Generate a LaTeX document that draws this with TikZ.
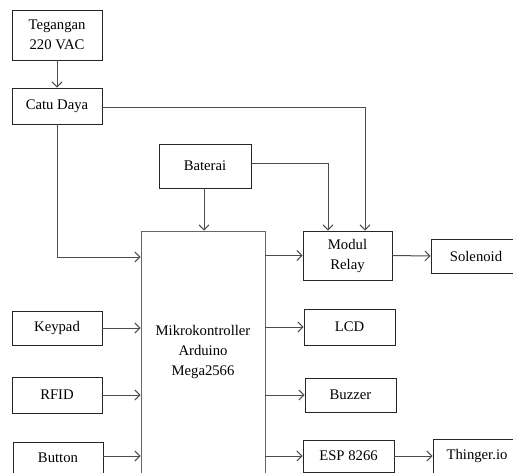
\documentclass[tikz,border=0pt]{standalone}
\usepackage{fontspec}
\setmainfont{Liberation Serif}
\usetikzlibrary{arrows.meta}
\begin{document}
\begin{tikzpicture}[x=1pt,y=-1pt,
  blk/.style={draw=black!85, line width=0.9pt, inner sep=0pt, align=center,
    font=\fontsize{14.7}{20}\selectfont},
  conn/.style={draw=black!70, line width=1pt, -{Straight Barb[length=5pt,width=10pt]}},
  line/.style={draw=black!70, line width=1pt}]
\useasboundingbox (0,0) rectangle (513,472);
\clip (0,0) rectangle (513,472);
\fill[white] (0,0) rectangle (513,472);

\node[blk, minimum width=90pt, minimum height=50pt] (teg) at (57,35) {Tegangan\\220 VAC};
\node[blk, minimum width=90pt, minimum height=36pt] (catu) at (57,106) {Catu Daya};
\node[blk, minimum width=92pt, minimum height=44pt] (bat) at (205,166) {Baterai};
\node[blk, draw=black!60, minimum width=124pt, minimum height=268pt] (mcu) at (203,365) {};
\node[align=center, font=\fontsize{14.7}{20}\selectfont, inner sep=0pt] (mcutxt) at (203,352) {Mikrokontroller\\Arduino\\Mega2566};
\node[blk, minimum width=89pt, minimum height=49pt] (relay) at (347.5,255.5) {Modul\\Relay};
\node[blk, minimum width=90pt, minimum height=34pt] (sol) at (476,256) {Solenoid};
\node[blk, minimum width=90pt, minimum height=34pt] (keypad) at (57,328) {Keypad};
\node[blk, minimum width=90pt, minimum height=36pt] (rfid) at (57,395) {RFID};
\node[blk, minimum width=90pt, minimum height=32pt] (button) at (58,458) {Button};
\node[blk, minimum width=91pt, minimum height=36pt] (lcd) at (349.5,327) {LCD};
\node[blk, minimum width=91pt, minimum height=34pt] (buzzer) at (350.5,395) {Buzzer};
\node[blk, minimum width=91pt, minimum height=32pt] (esp) at (348.5,456) {ESP 8266};
\node[blk, minimum width=88pt, minimum height=34pt] (thing) at (477,456) {Thinger.io};

\coordinate (c1) at (365,107);
\coordinate (c2) at (328,163);
\coordinate (c3) at (57,257);

\draw[conn] (teg.south) -- (catu.north);
\draw[conn] (catu.east |- c1) -- (c1) -- (c1 |- relay.north);
\draw[conn] (bat.east |- c2) -- (c2) -- (c2 |- relay.north);
\draw[conn] (bat.south -| 204,0) -- (mcu.north -| 204,0);
\draw[conn] (catu.south) -- (c3) -- (c3 -| mcu.west);
\draw[conn] (mcu.east |- relay.west) -- (relay.west);
\draw[conn] (relay.east) -- (sol.west);
\draw[conn] (keypad.east) -- (keypad.east -| mcu.west);
\draw[conn] (rfid.east) -- (rfid.east -| mcu.west);
\draw[conn] (button.east |- esp.west) -- (esp.west -| mcu.west);
\draw[conn] (mcu.east |- lcd.west) -- (lcd.west);
\draw[conn] (mcu.east |- buzzer.west) -- (buzzer.west);
\draw[conn] (mcu.east |- esp.west) -- (esp.west);
\draw[conn] (esp.east) -- (thing.west |- esp.east);
\end{tikzpicture}
\end{document}
